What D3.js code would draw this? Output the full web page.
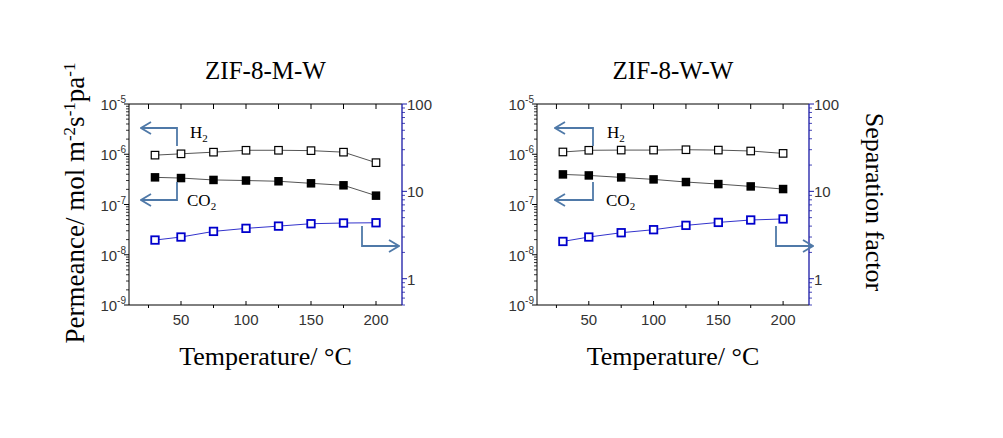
<!DOCTYPE html>
<html><head><meta charset="utf-8">
<script src="https://cdn.jsdelivr.net/npm/d3@7"></script>
<style>body{margin:0;background:#fff}</style>
</head><body>
<svg id="c" width="1003" height="438"></svg>
<script>
const temps = [30, 50, 75, 100, 125, 150, 175, 200];
const mwH2 = [0.96e-6, 1.02e-6, 1.10e-6, 1.20e-6, 1.20e-6, 1.18e-6, 1.10e-6, 0.68e-6];
const mwCO2 = [3.47e-7, 3.36e-7, 3.08e-7, 3.0e-7, 2.9e-7, 2.64e-7, 2.41e-7, 1.5e-7];
const mwSel = [2.77, 3.0, 3.48, 3.77, 4.0, 4.26, 4.34, 4.37];
const wwH2 = [1.11e-6, 1.2e-6, 1.21e-6, 1.21e-6, 1.23e-6, 1.21e-6, 1.16e-6, 1.04e-6];
const wwCO2 = [3.97e-7, 3.79e-7, 3.46e-7, 3.16e-7, 2.8e-7, 2.55e-7, 2.29e-7, 2.03e-7];
const wwSel = [2.67, 3.0, 3.36, 3.64, 4.08, 4.41, 4.70, 4.83];
const xTicks = [50, 100, 150, 200];
const yLeftExps = [-9, -8, -7, -6, -5];
const yRightTicks = [1, 10, 100];
const titles = ["ZIF-8-M-W", "ZIF-8-W-W"];

const svg = d3.select("#c");
const ARROW = "#4f79a8", BLUE = "#1a1aa6", SERIF = "'Liberation Serif','Times New Roman',serif", SANS = "'Liberation Sans',Arial,sans-serif";

svg.append("defs").append("marker").attr("id","ah").attr("viewBox","0 0 12 14")
  .attr("refX",11).attr("refY",7).attr("markerWidth",12).attr("markerHeight",14).attr("markerUnits","userSpaceOnUse")
  .attr("orient","auto").append("path").attr("d","M1,1 L11,7 L1,13").attr("fill","none").attr("stroke",ARROW).attr("stroke-width",1.8);

function panel(p){
  const {x0,x1,y0,y1,title,h2,co2,sel} = p;
  const g = svg.append("g");
  const x = d3.scaleLinear().domain([10,220]).range([x0,x1]);
  const yL = d3.scaleLog().domain([1e-9,1e-5]).range([y1,y0]);
  const yR = d3.scaleLog().domain([0.5,100]).range([y1,y0]);

  // frame
  g.append("line").attr("x1",x0).attr("x2",x1).attr("y1",y0).attr("y2",y0).attr("stroke","#000");
  g.append("line").attr("x1",x0).attr("x2",x1).attr("y1",y1).attr("y2",y1).attr("stroke","#000");
  g.append("line").attr("x1",x0).attr("x2",x0).attr("y1",y0).attr("y2",y1).attr("stroke","#000");
  g.append("line").attr("x1",x1).attr("x2",x1).attr("y1",y0).attr("y2",y1).attr("stroke",BLUE).attr("stroke-width",1.3);

  // x ticks
  const allX = d3.range(25,225,25);
  allX.forEach(v=>{
    const major = xTicks.includes(v);
    g.append("line").attr("x1",x(v)).attr("x2",x(v)).attr("y1",y0).attr("y2",y0+5).attr("stroke","#000");
    g.append("line").attr("x1",x(v)).attr("x2",x(v)).attr("y1",y1).attr("y2",y1+(major?-4:3)).attr("stroke","#000");
  });
  xTicks.forEach(v=>{
    g.append("text").attr("x",x(v)).attr("y",y1+20).attr("text-anchor","middle")
      .attr("font-family",SANS).attr("font-size",15).attr("fill","#333").text(v);
  });
  // left y ticks
  yLeftExps.forEach(e=>{
    const v = Math.pow(10,e);
    g.append("line").attr("x1",x0-5).attr("x2",x0).attr("y1",yL(v)).attr("y2",yL(v)).attr("stroke","#000");
    if(e<-5) for(let k=2;k<=9;k++){
      g.append("line").attr("x1",x0-3).attr("x2",x0).attr("y1",yL(k*v)).attr("y2",yL(k*v)).attr("stroke","#000").attr("stroke-width",0.8);
    }
    const t = g.append("text").attr("x",x0-3).attr("y",yL(v)+6).attr("text-anchor","end")
      .attr("font-family",SANS).attr("font-size",15).attr("fill","#333");
    t.append("tspan").text("10");
    t.append("tspan").attr("dy",-7).attr("font-size",10).text(e);
  });
  // right y ticks
  [1,10,100].forEach(v=>{
    g.append("line").attr("x1",x1).attr("x2",x1+5).attr("y1",yR(v)).attr("y2",yR(v)).attr("stroke",BLUE);
  });
  [0.5,0.6,0.7,0.8,0.9,2,3,4,5,6,7,8,9,20,30,40,50,60,70,80,90].forEach(v=>{
    g.append("line").attr("x1",x1).attr("x2",x1+3).attr("y1",yR(v)).attr("y2",yR(v)).attr("stroke",BLUE).attr("stroke-width",0.8);
  });
  yRightTicks.forEach(v=>{
    g.append("text").attr("x",x1+5).attr("y",yR(v)+6).attr("font-family",SANS).attr("font-size",15).attr("fill","#333").text(v);
  });

  // lines & markers
  const lineL = d3.line().x((d,i)=>x(temps[i])).y(d=>yL(d));
  const lineR = d3.line().x((d,i)=>x(temps[i])).y(d=>yR(d));
  g.append("path").attr("d",lineL(h2)).attr("fill","none").attr("stroke","#555").attr("stroke-width",1);
  g.append("path").attr("d",lineL(co2)).attr("fill","none").attr("stroke","#555").attr("stroke-width",1);
  g.append("path").attr("d",lineR(sel)).attr("fill","none").attr("stroke","#3333cc").attr("stroke-width",1);
  const s = 7.5;
  h2.forEach((d,i)=>g.append("rect").attr("x",x(temps[i])-s/2).attr("y",yL(d)-s/2).attr("width",s).attr("height",s).attr("fill","#fff").attr("stroke","#000").attr("stroke-width",1.2));
  co2.forEach((d,i)=>g.append("rect").attr("x",x(temps[i])-s/2-0.5).attr("y",yL(d)-s/2-0.5).attr("width",s+1).attr("height",s+1).attr("fill","#000"));
  sel.forEach((d,i)=>g.append("rect").attr("x",x(temps[i])-s/2).attr("y",yR(d)-s/2).attr("width",s).attr("height",s).attr("fill","#fff").attr("stroke","#0000cc").attr("stroke-width",1.8));

  // annotation arrows
  const ax = x0+p.vx, tipL = x0+p.tipL;
  const arrow = (pts)=>g.append("path").attr("d",d3.line()(pts)).attr("fill","none").attr("stroke",ARROW).attr("stroke-width",1.8).attr("marker-end","url(#ah)");
  arrow([[ax,146],[ax,128],[tipL,128]]);
  arrow([[ax,182],[ax,200],[tipL,200]]);
  arrow([[x0+p.sx,226],[x0+p.sx,246],[x0+p.sTip,246]]);

  const lab = (tx,ty,main,sub)=>{
    const t = g.append("text").attr("x",tx).attr("y",ty).attr("font-family",SERIF).attr("font-size",17).attr("fill","#000");
    t.append("tspan").text(main);
    t.append("tspan").attr("dy",4).attr("font-size",11).text(sub);
  };
  lab(x0+p.h2x,138,"H","2");
  lab(x0+p.co2x,206,"CO","2");

  g.append("text").attr("x",(x0+x1)/2).attr("y",79).attr("text-anchor","middle").attr("font-family",SERIF).attr("font-size",25).text(title);
  g.append("text").attr("x",(x0+x1)/2).attr("y",365).attr("text-anchor","middle").attr("font-family",SERIF).attr("font-size",26).text("Temperature/ \u00B0C");
}

panel({x0:129,x1:402,y0:104,y1:305,title:titles[0],h2:mwH2,co2:mwCO2,sel:mwSel,vx:48,tipL:12,sx:233,sTip:270,h2x:61,co2x:58});
panel({x0:537,x1:809,y0:104,y1:305,title:titles[1],h2:wwH2,co2:wwCO2,sel:wwSel,vx:56,tipL:18,sx:239,sTip:276,h2x:70,co2x:69});

// y titles
const yt = svg.append("text").attr("transform","translate(84,203) rotate(-90)").attr("text-anchor","middle")
  .attr("font-family",SERIF).attr("font-size",27);
yt.append("tspan").text("Permeance/ mol m");
yt.append("tspan").attr("dy",-9).attr("font-size",17).text("-2");
yt.append("tspan").attr("dy",9).text("s");
yt.append("tspan").attr("dy",-9).attr("font-size",17).text("-1");
yt.append("tspan").attr("dy",9).text("pa");
yt.append("tspan").attr("dy",-9).attr("font-size",17).text("-1");

svg.append("text").attr("transform","translate(866,202) rotate(90)").attr("text-anchor","middle")
  .attr("font-family",SERIF).attr("font-size",26).text("Separation  factor");
</script>
</body></html>
